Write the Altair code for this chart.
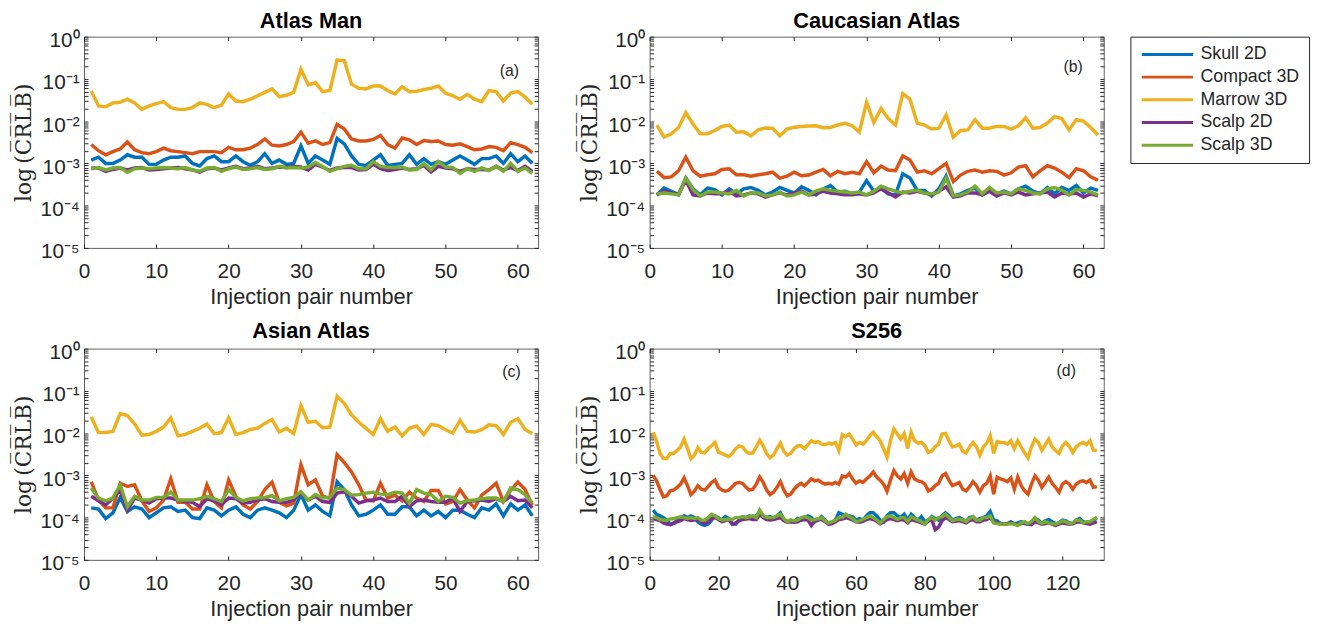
import altair as alt
import pandas as pd

SERIES = ["Skull 2D", "Compact 3D", "Marrow 3D", "Scalp 2D", "Scalp 3D"]
COLORS = ["#0072BD", "#D95319", "#EDB120", "#7E2F8E", "#77AC30"]

x62 = list(range(1, 63))
x130 = list(range(1, 131))

# ---------------- (a) Atlas Man ----------------
a_skull = [0.0012,0.0014,0.0010,0.0010,0.0012,0.0016,0.0014,0.0014,0.00095,0.00095,
           0.0012,0.0014,0.0014,0.0015,0.0010,0.00087,0.0013,0.0015,0.0011,0.0011,
           0.0015,0.0011,0.0009,0.0011,0.0017,0.0010,0.0012,0.00095,0.0010,0.0026,
           0.0010,0.0015,0.0012,0.00095,0.0039,0.0029,0.0015,0.00095,0.0009,0.0012,
           0.0016,0.0009,0.00095,0.0010,0.0016,0.00095,0.0013,0.00095,0.0011,0.00095,
           0.0012,0.0015,0.0012,0.00095,0.0013,0.0013,0.0015,0.0010,0.0017,0.0011,0.0015,0.0010]
a_compact = [0.0028,0.0020,0.0016,0.0019,0.0022,0.0032,0.0021,0.0018,0.0017,0.0019,
             0.0023,0.0020,0.0019,0.0018,0.0017,0.0019,0.0019,0.0019,0.0018,0.0024,
             0.0021,0.0021,0.0023,0.0028,0.0038,0.0027,0.0026,0.0028,0.0033,0.0055,
             0.0030,0.0034,0.0028,0.0031,0.0084,0.0065,0.0038,0.0034,0.0034,0.0037,
             0.0046,0.0028,0.0023,0.0040,0.0036,0.0028,0.0035,0.0033,0.0034,0.0028,
             0.0027,0.0029,0.0025,0.0021,0.0022,0.0025,0.0024,0.0020,0.0031,0.0028,0.0024,0.0018]
a_marrow = [0.052,0.023,0.022,0.027,0.028,0.033,0.027,0.019,0.023,0.026,
            0.029,0.021,0.019,0.019,0.021,0.027,0.025,0.021,0.024,0.044,
            0.030,0.029,0.033,0.040,0.048,0.058,0.038,0.041,0.048,0.17,
            0.072,0.082,0.050,0.053,0.28,0.27,0.075,0.060,0.058,0.068,
            0.068,0.053,0.044,0.065,0.050,0.051,0.056,0.060,0.068,0.046,
            0.040,0.033,0.043,0.033,0.029,0.053,0.050,0.030,0.046,0.050,0.037,0.025]
a_scalp2d = [0.00078,0.00078,0.00065,0.00072,0.00078,0.00070,0.00078,0.00080,0.00070,0.00072,
             0.00075,0.00078,0.00080,0.00075,0.00070,0.00062,0.00075,0.00078,0.00070,0.00078,
             0.00085,0.00075,0.00078,0.00085,0.00075,0.00078,0.00082,0.00080,0.00085,0.00082,
             0.00070,0.00095,0.00082,0.00068,0.00078,0.00080,0.00080,0.00070,0.00072,0.00095,
             0.00075,0.00068,0.00072,0.00078,0.00072,0.00075,0.00090,0.00063,0.00085,0.00078,
             0.00075,0.00065,0.00075,0.00072,0.00072,0.00070,0.00085,0.00070,0.00080,0.00068,0.00085,0.00065]
a_scalp3d = [0.00075,0.00080,0.00070,0.00078,0.00080,0.00062,0.00075,0.00078,0.00075,0.00078,
             0.00080,0.00078,0.00075,0.00080,0.00070,0.00065,0.00078,0.00080,0.00065,0.00075,
             0.00082,0.00072,0.00075,0.00080,0.00072,0.00075,0.00085,0.00078,0.00080,0.00078,
             0.00082,0.00105,0.00085,0.00065,0.00075,0.00085,0.00090,0.00075,0.00075,0.00110,
             0.00085,0.00080,0.00080,0.00082,0.00070,0.00072,0.00100,0.00070,0.00110,0.00082,
             0.00080,0.00058,0.00075,0.00065,0.00078,0.00068,0.00085,0.00065,0.00100,0.00065,0.00078,0.00058]

# ---------------- (b) Caucasian Atlas ----------------
b_skull = [0.00018,0.00026,0.00022,0.00018,0.00045,0.00025,0.00018,0.00026,0.00024,0.00018,
           0.00025,0.00019,0.00025,0.00027,0.00023,0.00018,0.00021,0.00027,0.00023,0.00020,
           0.00028,0.00023,0.00018,0.00025,0.00030,0.00021,0.00022,0.00019,0.00021,0.00039,
           0.00022,0.00026,0.00019,0.00018,0.00057,0.00045,0.00023,0.00023,0.00017,0.00025,
           0.00050,0.00017,0.00019,0.00023,0.00026,0.00018,0.00025,0.00019,0.00022,0.00019,
           0.00025,0.00029,0.00022,0.00019,0.00027,0.00019,0.00027,0.00023,0.00030,0.00020,0.00026,0.00023]
b_compact = [0.00065,0.00046,0.00048,0.00067,0.0014,0.00067,0.00050,0.00054,0.00057,0.00072,
             0.00075,0.00054,0.00054,0.00050,0.00054,0.00057,0.00062,0.00045,0.00050,0.00062,
             0.00051,0.00053,0.00062,0.00072,0.00051,0.00065,0.00057,0.00062,0.00057,0.0011,
             0.00060,0.00086,0.00070,0.00067,0.0015,0.0012,0.00062,0.00067,0.00057,0.00075,
             0.0010,0.00037,0.00053,0.00065,0.00070,0.00062,0.00067,0.00065,0.00053,0.00060,
             0.00082,0.00088,0.00048,0.00067,0.00088,0.00078,0.00062,0.00046,0.00075,0.00067,0.00048,0.00040]
b_marrow = [0.0081,0.0042,0.0050,0.0071,0.016,0.0085,0.0050,0.0050,0.0060,0.0075,
            0.0081,0.0055,0.0056,0.0045,0.0062,0.0069,0.0068,0.0045,0.0065,0.0072,
            0.0075,0.0077,0.0078,0.0070,0.0071,0.0081,0.0089,0.0078,0.0055,0.028,
            0.0093,0.020,0.0115,0.0081,0.045,0.033,0.0090,0.0081,0.0065,0.0068,
            0.014,0.0042,0.0060,0.0062,0.0108,0.0068,0.0068,0.0075,0.0075,0.0065,
            0.0078,0.012,0.0068,0.0071,0.0090,0.0128,0.0115,0.0062,0.0108,0.0100,0.0071,0.0047]
b_scalp2d = [0.00018,0.00022,0.00020,0.00019,0.00040,0.00018,0.00017,0.00020,0.00019,0.00019,
             0.00022,0.00017,0.00018,0.00020,0.00019,0.00016,0.00018,0.00020,0.00018,0.00020,
             0.00022,0.00018,0.00019,0.00022,0.00020,0.00019,0.00018,0.00018,0.00019,0.00018,
             0.00020,0.00025,0.00020,0.00016,0.00021,0.00020,0.00022,0.00020,0.00018,0.00022,
             0.00028,0.00016,0.00017,0.00020,0.00020,0.00018,0.00022,0.00017,0.00020,0.00018,
             0.00021,0.00018,0.00019,0.00020,0.00021,0.00016,0.00020,0.00019,0.00020,0.00016,0.00019,0.00017]
b_scalp3d = [0.00019,0.00020,0.00019,0.00018,0.00045,0.00024,0.00017,0.00021,0.00021,0.00020,
             0.00019,0.00023,0.00017,0.00020,0.00020,0.00017,0.00018,0.00021,0.00017,0.00018,
             0.00021,0.00018,0.00022,0.00025,0.00023,0.00022,0.00021,0.00020,0.00021,0.00018,
             0.00022,0.00029,0.00025,0.00022,0.00020,0.00022,0.00023,0.00020,0.00019,0.00021,
             0.00045,0.00017,0.00018,0.00021,0.00029,0.00019,0.00027,0.00020,0.00021,0.00019,
             0.00025,0.00023,0.00020,0.00019,0.00025,0.00027,0.00023,0.00018,0.00024,0.00023,0.00021,0.00018]

# ---------------- (c) Asian Atlas ----------------
c_skull = [0.00017,0.00016,0.000095,0.00013,0.00030,0.00014,0.00018,0.00016,0.00010,0.00013,
           0.00017,0.00018,0.00014,0.00015,0.00010,0.000095,0.00017,0.00015,0.00011,0.00015,
           0.00018,0.00012,0.00010,0.00015,0.00017,0.00015,0.00013,0.00010,0.00015,0.00035,
           0.00015,0.00020,0.00014,0.00011,0.00071,0.00046,0.00020,0.00011,0.00012,0.00015,
           0.00020,0.00012,0.00012,0.00018,0.00018,0.00011,0.00015,0.00011,0.00014,0.00010,
           0.00015,0.00015,0.00012,0.00010,0.00017,0.00015,0.00021,0.00011,0.00021,0.00015,0.00020,0.00011]
c_compact = [0.00071,0.00026,0.00017,0.00017,0.00065,0.00055,0.00060,0.00025,0.00014,0.00017,
             0.00026,0.00083,0.00023,0.00023,0.00016,0.00016,0.00060,0.00024,0.00017,0.00078,
             0.00032,0.00020,0.00016,0.00024,0.00046,0.00069,0.00023,0.00019,0.00022,0.0018,
             0.00060,0.00078,0.00032,0.00029,0.0031,0.0020,0.0012,0.00060,0.00026,0.00025,
             0.00065,0.00029,0.00034,0.00025,0.00040,0.00029,0.00024,0.00044,0.00044,0.00021,
             0.00024,0.00046,0.00026,0.00017,0.00034,0.00046,0.00065,0.00024,0.00044,0.00069,0.00046,0.00020]
c_marrow = [0.024,0.0103,0.0103,0.011,0.029,0.026,0.0165,0.0089,0.0093,0.011,
            0.0139,0.023,0.0086,0.0093,0.011,0.013,0.0165,0.0097,0.0103,0.023,
            0.0093,0.0103,0.0122,0.013,0.017,0.021,0.0106,0.013,0.0097,0.045,
            0.018,0.019,0.0134,0.0139,0.074,0.050,0.027,0.018,0.013,0.0093,
            0.022,0.011,0.0139,0.0086,0.013,0.0147,0.0093,0.016,0.015,0.012,
            0.010,0.020,0.011,0.0106,0.012,0.0157,0.015,0.0093,0.018,0.022,0.0122,0.0097]
c_scalp2d = [0.00032,0.00025,0.00020,0.00029,0.00046,0.00015,0.00029,0.00026,0.00022,0.00028,
             0.00029,0.00029,0.00026,0.00024,0.00023,0.00018,0.00028,0.00025,0.00020,0.00029,
             0.00028,0.00022,0.00023,0.00026,0.00028,0.00024,0.00023,0.00023,0.00026,0.00038,
             0.00026,0.00032,0.00024,0.00023,0.00038,0.00041,0.00032,0.00022,0.00025,0.00026,
             0.00029,0.00024,0.00024,0.00032,0.00018,0.00025,0.00026,0.00024,0.00023,0.00023,
             0.00029,0.00014,0.00024,0.00025,0.00026,0.00024,0.00028,0.00024,0.00032,0.00025,0.00026,0.00017]
c_scalp3d = [0.00050,0.00029,0.00025,0.00029,0.00060,0.00018,0.00032,0.00026,0.00026,0.00030,
             0.00030,0.00040,0.00026,0.00026,0.00026,0.00028,0.00032,0.00028,0.00024,0.00046,
             0.00030,0.00025,0.00028,0.00029,0.00030,0.00033,0.00025,0.00028,0.00030,0.00041,
             0.00026,0.00035,0.00029,0.00030,0.00050,0.00046,0.00034,0.00035,0.00038,0.00040,
             0.00036,0.00035,0.00040,0.00038,0.00022,0.00046,0.00038,0.00035,0.00024,0.00032,
             0.00030,0.00022,0.00025,0.00026,0.00028,0.00029,0.00029,0.00024,0.00050,0.00046,0.00035,0.00022]

# ---------------- (d) S256 ----------------
d_skull = [0.00015,0.00012,0.00011,0.00010,0.000087,0.00007,0.000072,0.000087,0.000095,0.00011,
           0.00010,0.00011,0.00010,0.00008,0.00007,0.000065,0.00007,0.000087,0.00011,0.00010,
           0.000087,0.000105,0.000095,0.000072,0.00007,0.000087,0.000105,0.00010,0.00011,0.00010,
           0.00011,0.00014,0.00011,0.00010,0.000105,0.000095,0.00011,0.00013,0.000087,0.00008,
           0.000087,0.00008,0.000095,0.000087,0.00010,0.00011,0.00010,0.00008,0.000087,0.000105,
           0.000087,0.000072,0.000072,0.000087,0.00013,0.00012,0.00010,0.00011,0.000105,0.000087,
           0.000095,0.000087,0.00011,0.00013,0.00013,0.00011,0.000087,0.00008,0.00011,0.00013,
           0.00013,0.00011,0.00010,0.00012,0.000087,0.00012,0.00010,0.000087,0.000105,0.00008,
           0.000087,0.000105,0.000095,0.000087,0.00011,0.00013,0.00011,0.000087,0.000095,0.00010,
           0.00009,0.00008,0.00010,0.000105,0.000087,0.000095,0.00010,0.00011,0.00014,0.000087,
           0.000084,0.000072,0.00007,0.000072,0.00008,0.00007,0.000075,0.00008,0.000072,0.00007,
           0.00008,0.000095,0.000087,0.000072,0.000084,0.00009,0.00008,0.000072,0.000075,0.000087,
           0.000084,0.000075,0.000072,0.000087,0.000095,0.00008,0.000075,0.00008,0.000087,0.00010]
d_compact = [0.0010,0.00074,0.00047,0.00031,0.00033,0.00043,0.00045,0.00052,0.00062,0.00087,
             0.00057,0.00035,0.00042,0.00057,0.00047,0.00045,0.00054,0.00068,0.00077,0.00052,
             0.00045,0.00042,0.00045,0.00054,0.00065,0.00068,0.00065,0.00052,0.00045,0.00047,
             0.00062,0.00091,0.00068,0.00045,0.00035,0.00040,0.00052,0.00071,0.00045,0.00033,
             0.00036,0.00047,0.00057,0.00065,0.00057,0.00068,0.00082,0.00074,0.00077,0.00068,
             0.00062,0.00065,0.00062,0.00068,0.00062,0.00097,0.00091,0.0011,0.00082,0.00065,
             0.00074,0.00068,0.00082,0.00097,0.0012,0.00091,0.00077,0.00062,0.00042,0.00077,
             0.0013,0.00097,0.00082,0.0011,0.00065,0.0012,0.00082,0.00074,0.00071,0.00062,
             0.00043,0.00047,0.00057,0.00065,0.00097,0.0011,0.00077,0.00057,0.00062,0.00068,
             0.00047,0.00043,0.00054,0.00071,0.00057,0.00040,0.00057,0.00065,0.00097,0.00036,
             0.00091,0.00082,0.00077,0.00071,0.00087,0.00047,0.00091,0.00057,0.00043,0.00036,
             0.00062,0.00097,0.00077,0.00052,0.00068,0.00091,0.00065,0.00052,0.00040,0.00062,
             0.00071,0.00062,0.00047,0.00062,0.00071,0.00074,0.00068,0.00077,0.00052,0.00054]
d_marrow = [0.0105,0.0065,0.0033,0.0025,0.0025,0.0033,0.0033,0.0039,0.0047,0.0072,
            0.0043,0.0025,0.0030,0.0045,0.0035,0.0034,0.0043,0.0050,0.0060,0.0035,
            0.0033,0.0030,0.0028,0.0033,0.0043,0.0050,0.0047,0.0037,0.0033,0.0034,
            0.0047,0.0068,0.0050,0.0033,0.0026,0.0030,0.0043,0.0058,0.0037,0.0030,
            0.0033,0.0043,0.0050,0.0050,0.0043,0.0053,0.0066,0.0060,0.0063,0.0055,
            0.0053,0.0058,0.0055,0.0060,0.0039,0.0092,0.0082,0.0095,0.0072,0.0053,
            0.0060,0.0055,0.0066,0.0087,0.0105,0.0082,0.0066,0.0043,0.0027,0.0066,
            0.0125,0.0095,0.0072,0.0098,0.0043,0.0105,0.0066,0.0058,0.0060,0.0050,
            0.0035,0.0037,0.0048,0.0055,0.0095,0.0098,0.0066,0.0047,0.0050,0.0055,
            0.0037,0.0034,0.0047,0.0060,0.0048,0.0030,0.0047,0.0058,0.0087,0.0033,
            0.0063,0.0060,0.0060,0.0055,0.0066,0.0043,0.0066,0.0047,0.0034,0.0026,
            0.0048,0.0072,0.0060,0.0039,0.0053,0.0072,0.0047,0.0039,0.0033,0.0050,
            0.0060,0.0048,0.0035,0.0047,0.0055,0.0060,0.0053,0.0066,0.0039,0.0039]
d_scalp2d = [0.000095,0.00009,0.000085,0.000075,0.00007,0.000068,0.000075,0.00008,0.000085,0.000095,
             0.00009,0.000085,0.000088,0.00009,0.00008,0.000072,0.00008,0.000095,0.0001,0.00009,
             0.00008,0.000085,0.00009,0.00007,0.000075,0.000085,0.00009,0.000092,0.000095,0.00009,
             0.00009,0.00012,0.0001,0.00009,0.000088,0.00009,0.000095,0.0001,0.000085,0.000078,
             0.00008,0.000078,0.00008,0.000088,0.00009,0.000088,0.000065,0.000082,0.00009,0.00009,
             0.00008,0.00007,0.000072,0.00008,0.00009,0.000092,0.0001,0.000095,0.000088,0.00008,
             0.000078,0.000082,0.00009,0.000095,0.00009,0.000082,0.000072,0.00008,0.00009,0.000095,
             0.00009,0.000085,0.00009,0.000088,0.000075,0.00009,0.000085,0.00008,0.000075,0.00007,
             0.000082,0.00009,0.000052,0.00006,0.000085,0.0001,0.00009,0.00008,0.000082,0.000085,
             0.00008,0.000075,0.000085,0.00009,0.00008,0.00008,0.000088,0.00009,0.0001,0.00008,
             0.000075,0.000072,0.00007,0.000072,0.000075,0.00007,0.000068,0.000072,0.000075,0.00007,
             0.000068,0.00008,0.000075,0.00007,0.000072,0.000075,0.00007,0.000065,0.00007,0.000075,
             0.000072,0.00007,0.000072,0.000078,0.00008,0.000075,0.000072,0.00007,0.000075,0.00008]
d_scalp3d = [0.000105,0.00010,0.00009,0.000087,0.000087,0.000093,0.000095,0.00010,0.000105,0.00010,
             0.000095,0.00010,0.000095,0.00010,0.000087,0.000087,0.00010,0.00012,0.00011,0.000095,
             0.000087,0.00009,0.000093,0.00009,0.00010,0.00010,0.000105,0.00010,0.000105,0.00011,
             0.00010,0.00015,0.00011,0.00010,0.00010,0.00010,0.00011,0.00012,0.000095,0.00008,
             0.000087,0.000084,0.000087,0.00010,0.000105,0.00010,0.000087,0.00009,0.000095,0.00010,
             0.000084,0.000075,0.00008,0.000087,0.00010,0.00010,0.00012,0.000105,0.000095,0.00008,
             0.000084,0.00009,0.00010,0.00011,0.00010,0.000087,0.000075,0.00009,0.000105,0.00011,
             0.00010,0.00009,0.00010,0.00010,0.00008,0.000105,0.000095,0.000087,0.00008,0.00007,
             0.00009,0.00010,0.000087,0.00010,0.000105,0.00012,0.00010,0.000084,0.00009,0.000093,
             0.000087,0.00008,0.000095,0.000105,0.000087,0.000087,0.00010,0.00010,0.00011,0.000075,
             0.000072,0.00007,0.00007,0.00007,0.000072,0.00007,0.000065,0.000075,0.00008,0.000072,
             0.00008,0.00010,0.00008,0.000072,0.00008,0.000075,0.000072,0.00007,0.000075,0.000084,
             0.00008,0.000072,0.000075,0.000087,0.000087,0.000075,0.00008,0.00008,0.00009,0.00010]

TITLES = ["Atlas Man", "Caucasian Atlas", "Asian Atlas", "S256"]
TAGS = ["(a)", "(b)", "(c)", "(d)"]
X_TICKS_62 = [0, 10, 20, 30, 40, 50, 60]
X_TICKS_130 = [0, 20, 40, 60, 80, 100, 120]
Y_TICKS = [m * 10.0 ** e for e in range(-5, 0) for m in range(1, 10)] + [1.0]


def long_table(xs, cols):
    rows = []
    for name, vals in zip(SERIES, cols):
        for xv, v in zip(xs, vals):
            rows.append({"x": xv, "series": name, "value": v})
    return pd.DataFrame(rows)


FONT = "Liberation Sans"
TXT = "#262626"
W, H = 460, 214

LOGE = "(log(datum.value)/LN10)"
LABEL_EXPR = (
    "abs(" + LOGE + " - round(" + LOGE + ")) < 0.001 ? "
    "(round(" + LOGE + ") == 0 ? '10\u2070' : "
    "'10\u207b' + ['\u2070','\u00b9','\u00b2','\u00b3','\u2074','\u2075'][-round(" + LOGE + ")]) : ''"
)
Y_TITLE = "log\u2009(C\u0305R\u0305L\u0305B\u0305)"


def panel(df, title, xmax, xt, tag, tag_dx, tag_dy, title_off, legend):
    xs = alt.Scale(domain=[0, xmax], nice=False, zero=False)
    ys = alt.Scale(type="log", domain=[1e-5, 1], nice=False)
    lines = alt.Chart(df).mark_line(strokeWidth=3.5, clip=True).encode(
        x=alt.X("x:Q", scale=xs, axis=alt.Axis(
            values=xt, format="d", offset=-4, tickSize=4, labelPadding=13,
            labelFlush=False, labelOverlap=False,
            title="Injection pair number", titleBaseline="alphabetic",
            titlePadding=20, minExtent=40, maxExtent=40)),
        y=alt.Y("value:Q", scale=ys, axis=alt.Axis(
            values=Y_TICKS, labelExpr=LABEL_EXPR, offset=-4, tickSize=4,
            labelPadding=5, labelOffset=4, labelFlush=False, labelOverlap=False,
            title=Y_TITLE, titleFont="DejaVu Serif", titleFontSize=22,
            titleBaseline="alphabetic", titlePadding=8, minExtent=50, maxExtent=50)),
        color=alt.Color("series:N", scale=alt.Scale(domain=SERIES, range=COLORS),
                        sort=SERIES, legend=legend),
    )
    mirror = alt.Chart(df).mark_line(strokeOpacity=0).encode(
        x=alt.X("x:Q", scale=xs, axis=alt.Axis(
            orient="top", values=xt, labels=False, title=None, offset=-4, tickSize=4,
            minExtent=0, maxExtent=0)),
        y=alt.Y("value:Q", scale=ys, axis=alt.Axis(
            orient="right", values=Y_TICKS, labels=False, title=None, offset=-4, tickSize=4,
            minExtent=0, maxExtent=0)),
    )
    tagc = alt.Chart(pd.DataFrame({"t": [tag]})).mark_text(
        font=FONT, fontSize=16, color=TXT, align="center", baseline="middle"
    ).encode(text="t:N", x=alt.value(W - tag_dx), y=alt.value(tag_dy))
    ttl = alt.Chart(pd.DataFrame({"t": [title]})).mark_text(
        font=FONT, fontSize=22, fontWeight="bold", color="black",
        align="center", baseline="alphabetic"
    ).encode(text="t:N", x=alt.value(W / 2), y=alt.value(-title_off))
    return alt.layer(lines, mirror, tagc, ttl).resolve_axis(
        x="independent", y="independent"
    ).properties(width=W, height=H)


legend_b = alt.Legend(
    title=None, orient="right", offset=26, symbolType="M-1,0L7,0", symbolSize=169,
    symbolStrokeWidth=3, labelFont=FONT, labelFontSize=18, labelColor=TXT,
    labelOffset=44, strokeColor=TXT, fillColor="white", padding=9, rowPadding=5,
    labelLimit=300,
)

pa = panel(long_table(x62, [a_skull, a_compact, a_marrow, a_scalp2d, a_scalp3d]),
           TITLES[0], 62.8, X_TICKS_62, TAGS[0], 29, 35, 9, None)
pb = panel(long_table(x62, [b_skull, b_compact, b_marrow, b_scalp2d, b_scalp3d]),
           TITLES[1], 62.8, X_TICKS_62, TAGS[1], 31, 31, 9, legend_b)
pc = panel(long_table(x62, [c_skull, c_compact, c_marrow, c_scalp2d, c_scalp3d]),
           TITLES[2], 62.8, X_TICKS_62, TAGS[2], 27, 24, 11, None)
pd_ = panel(long_table(x130, [d_skull, d_compact, d_marrow, d_scalp2d, d_scalp3d]),
            TITLES[3], 132, X_TICKS_130, TAGS[3], 38, 23, 11, None)

chart = alt.concat(
    pa, pb, pc, pd_, columns=2, spacing={"row": 102, "column": 113}, bounds="flush"
).resolve_scale(color="independent").configure_view(
    stroke="#606060", strokeWidth=1
).configure_axis(
    labelFont=FONT, labelFontSize=21, labelColor=TXT, titleFont=FONT,
    titleFontSize=22, titleColor=TXT, titleFontWeight="normal", tickColor=TXT,
    tickWidth=1, grid=False, domain=False,
).properties(
    padding={"left": 4, "top": -3, "right": 5, "bottom": 5}, background="white"
)

chart.save("out.html", embed_options={"renderer": "svg", "actions": False})
